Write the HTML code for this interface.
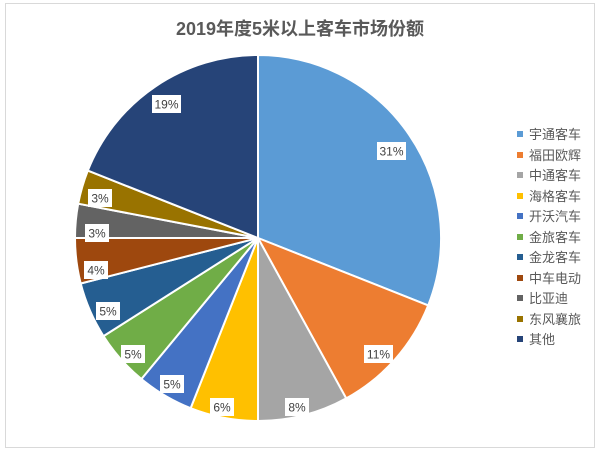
<!DOCTYPE html>
<html><head><meta charset="utf-8"><style>
body{margin:0;background:#fff;}
svg{display:block;font-family:"Liberation Sans","Noto Sans CJK SC",sans-serif;}
</style></head><body>
<svg width="600" height="451" viewBox="0 0 600 451">
<rect x="0" y="0" width="600" height="451" fill="#fff"/>
<rect x="5.5" y="3.5" width="589" height="444" fill="#fff" stroke="#d9d9d9"/>
<text x="300" y="35" text-anchor="middle" font-size="18" font-weight="bold" fill="#595959">2019年度5米以上客车市场份额</text>
<g stroke="#fff" stroke-width="2" stroke-linejoin="round">
<path d="M258,238 L258,55 A183,183 0 0,1 428.2,305.4 Z" fill="#5B9BD5"/>
<path d="M258,238 L428.2,305.4 A183,183 0 0,1 346.2,398.4 Z" fill="#ED7D31"/>
<path d="M258,238 L346.2,398.4 A183,183 0 0,1 258,421 Z" fill="#A5A5A5"/>
<path d="M258,238 L258,421 A183,183 0 0,1 190.6,408.2 Z" fill="#FFC000"/>
<path d="M258,238 L190.6,408.2 A183,183 0 0,1 141.4,379 Z" fill="#4472C4"/>
<path d="M258,238 L141.4,379 A183,183 0 0,1 103.5,336.1 Z" fill="#70AD47"/>
<path d="M258,238 L103.5,336.1 A183,183 0 0,1 80.7,283.5 Z" fill="#255E91"/>
<path d="M258,238 L80.7,283.5 A183,183 0 0,1 75,238 Z" fill="#9E480E"/>
<path d="M258,238 L75,238 A183,183 0 0,1 78.2,203.7 Z" fill="#636363"/>
<path d="M258,238 L78.2,203.7 A183,183 0 0,1 87.8,170.6 Z" fill="#997300"/>
<path d="M258,238 L87.8,170.6 A183,183 0 0,1 258,55 Z" fill="#264478"/>
</g>
<g font-size="12" fill="#404040" text-anchor="middle">
<rect x="377" y="142" width="29" height="18" fill="#fff"/><text x="391.5" y="155.5">31%</text>
<rect x="364" y="345" width="29" height="18" fill="#fff"/><text x="378.5" y="358.5">11%</text>
<rect x="285" y="398" width="24" height="18" fill="#fff"/><text x="297" y="411.5">8%</text>
<rect x="210" y="398" width="24" height="18" fill="#fff"/><text x="222" y="411.5">6%</text>
<rect x="160" y="375" width="24" height="18" fill="#fff"/><text x="172" y="388.5">5%</text>
<rect x="121" y="345" width="24" height="18" fill="#fff"/><text x="133" y="358.5">5%</text>
<rect x="96" y="302" width="24" height="18" fill="#fff"/><text x="108" y="315.5">5%</text>
<rect x="84" y="261" width="24" height="18" fill="#fff"/><text x="96" y="274.5">4%</text>
<rect x="85" y="224" width="24" height="18" fill="#fff"/><text x="97" y="237.5">3%</text>
<rect x="88" y="189" width="24" height="18" fill="#fff"/><text x="100" y="202.5">3%</text>
<rect x="152" y="95" width="29" height="18" fill="#fff"/><text x="166.5" y="108.5">19%</text>
</g>
<g font-size="13" fill="#595959">
<rect x="517" y="131" width="6" height="6" fill="#5B9BD5"/><text x="529" y="139">宇通客车</text>
<rect x="517" y="152" width="6" height="6" fill="#ED7D31"/><text x="529" y="160">福田欧辉</text>
<rect x="517" y="172" width="6" height="6" fill="#A5A5A5"/><text x="529" y="180">中通客车</text>
<rect x="517" y="193" width="6" height="6" fill="#FFC000"/><text x="529" y="201">海格客车</text>
<rect x="517" y="213" width="6" height="6" fill="#4472C4"/><text x="529" y="221">开沃汽车</text>
<rect x="517" y="234" width="6" height="6" fill="#70AD47"/><text x="529" y="242">金旅客车</text>
<rect x="517" y="254" width="6" height="6" fill="#255E91"/><text x="529" y="262">金龙客车</text>
<rect x="517" y="275" width="6" height="6" fill="#9E480E"/><text x="529" y="283">中车电动</text>
<rect x="517" y="295" width="6" height="6" fill="#636363"/><text x="529" y="303">比亚迪</text>
<rect x="517" y="316" width="6" height="6" fill="#997300"/><text x="529" y="324">东风襄旅</text>
<rect x="517" y="336" width="6" height="6" fill="#264478"/><text x="529" y="344">其他</text>
</g>
</svg>
</body></html>
